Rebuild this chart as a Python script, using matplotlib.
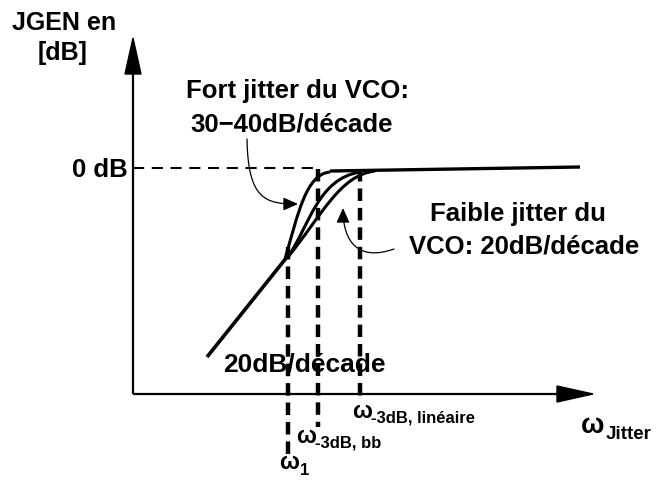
import matplotlib
matplotlib.use("Agg")
import matplotlib.pyplot as plt
from matplotlib.path import Path
from matplotlib.patches import PathPatch, FancyArrowPatch, Polygon

plt.rcParams['font.family'] = ['Liberation Sans', 'DejaVu Sans']
plt.rcParams['font.weight'] = 'bold'
plt.rcParams['lines.scale_dashes'] = False

W, H = 658, 481

# ---- schematic data (pixel-like drawing units) ----
asymptote_x = [207, 287]
asymptote_y = [358, 258]
steep_ctrl = [(285, 260), (298, 215), (306, 175), (330, 173)]
middle_ctrl = [(288, 258), (310, 225), (318, 180), (360, 173)]
linear_ctrl = [(288, 258), (322, 216), (340, 176), (375, 172)]
plateau_x = [330, 580]
plateau_y = [172, 168]
zero_db_x = [133, 318]
zero_db_y = [169, 169]
vlines_x = [288, 318, 360]
vlines_top = [248, 170, 170]
vlines_bottom = [455, 428, 397]
arrow_fort = [(247, 140), (248, 200), (265, 205), (298, 205)]
arrow_faible = [(394, 250), (360, 262), (343, 245), (343, 209)]

fig = plt.figure(figsize=(W / 100, H / 100), dpi=100)
ax = fig.add_axes([0, 0, 1, 1])
ax.set_xlim(0, W)
ax.set_ylim(H, 0)
ax.axis('off')

# axes
ax.plot([133, 133], [395, 70], color='black', lw=1.6, solid_capstyle='butt')
ax.plot([133, 560], [395, 395], color='black', lw=1.6, solid_capstyle='butt')
ax.add_patch(Polygon([(125, 75), (141, 75), (133, 39)], closed=True, color='black'))
ax.add_patch(Polygon([(557, 387), (557, 403), (593, 395)], closed=True, color='black'))

# curves
ax.plot(asymptote_x, asymptote_y, color='black', lw=2.6, solid_capstyle='butt')
codes = [Path.MOVETO, Path.CURVE4, Path.CURVE4, Path.CURVE4]
for ctrl in (steep_ctrl, middle_ctrl, linear_ctrl):
    ax.add_patch(PathPatch(Path(ctrl, codes), facecolor='none', edgecolor='black', lw=2.2))
ax.plot(plateau_x, plateau_y, color='black', lw=2.4, solid_capstyle='butt')

# dashed lines
ax.plot(zero_db_x, zero_db_y, color='black', lw=1.5, dashes=(8, 5.5))
for x, t, b in zip(vlines_x, vlines_top, vlines_bottom):
    ax.plot([x, x], [t, b], color='black', lw=3.2, dashes=(9, 5))

# thin arrows
for ctrl in (arrow_fort, arrow_faible):
    ax.add_patch(FancyArrowPatch(path=Path(ctrl, codes),
                                 arrowstyle='-|>,head_length=9,head_width=4',
                                 color='black', lw=0.9))

# texts
bold = dict(fontweight='bold', color='black', va='baseline')
ax.text(64, 30, 'JGEN en', fontsize=18, ha='center', **bold)
ax.text(63, 60, '[dB]', fontsize=18, ha='center', **bold)
ax.text(128, 177, '0 dB', fontsize=18.5, ha='right', **bold)
ax.text(298, 98, 'Fort jitter du VCO:', fontsize=18.5, ha='center', **bold)
ax.text(292, 132, '30\u221240dB/décade', fontsize=18.5, ha='center', **bold)
ax.text(518, 221, 'Faible jitter du', fontsize=18.5, ha='center', **bold)
ax.text(524, 254, 'VCO: 20dB/décade', fontsize=18.5, ha='center', **bold)
ax.text(304, 372, '20dB/décade', fontsize=19, ha='center', **bold)

# omega labels
ax.text(352, 418, 'ω', fontsize=17, ha='left', **bold)
ax.text(371, 423, '-3dB, linéaire', fontsize=12, ha='left', **bold)
ax.text(296, 443, 'ω', fontsize=17, ha='left', **bold)
ax.text(315, 448, '-3dB, bb', fontsize=12, ha='left', **bold)
ax.text(279, 469, 'ω', fontsize=17, ha='left', **bold)
ax.text(300, 475, '1', fontsize=12, ha='left', **bold)
ax.text(581, 433, 'ω', fontsize=20, ha='left', **bold)
ax.text(606, 439, 'Jitter', fontsize=13.5, ha='left', **bold)

fig.savefig('out.png', dpi=100)
